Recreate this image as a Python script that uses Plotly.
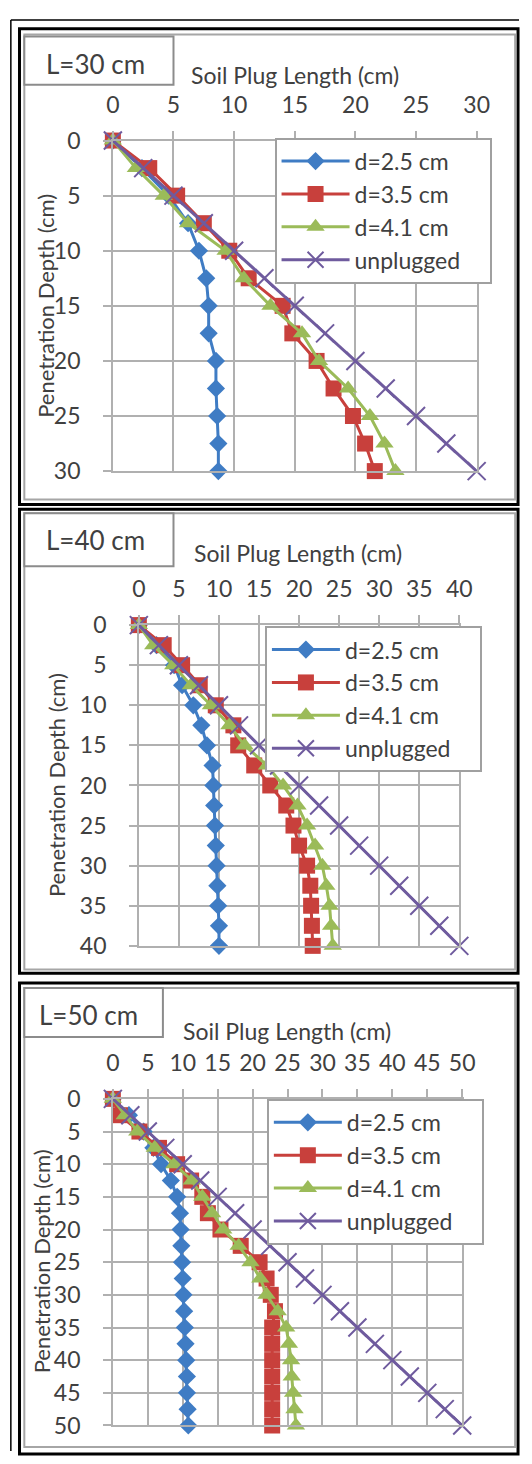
import plotly.graph_objects as go

W, H = 532, 1464

series_names = ["d=2.5 cm", "d=3.5 cm", "d=4.1 cm", "unplugged"]
panel_titles = ["L=30 cm", "L=40 cm", "L=50 cm"]
x_title = "Soil Plug Length (cm)"
y_title = "Penetration Depth (cm)"

depth30 = [0, 2.5, 5, 7.5, 10, 12.5, 15, 17.5, 20, 22.5, 25, 27.5, 30]
d25_L30 = [0, 2.4, 4.6, 6.2, 7.1, 7.7, 7.9, 7.9, 8.5, 8.5, 8.6, 8.7, 8.7]
d35_L30 = [0, 3.0, 5.3, 7.5, 9.6, 11.2, 14.0, 14.8, 16.8, 18.2, 19.8, 20.8, 21.6]
d41_L30 = [0, 1.9, 4.2, 6.2, 9.3, 10.8, 13.0, 15.6, 17.0, 19.4, 21.2, 22.4, 23.3]
unp_L30 = [0, 2.5, 5, 7.5, 10, 12.5, 15, 17.5, 20, 22.5, 25, 27.5, 30]

depth40 = [0, 2.5, 5, 7.5, 10, 12.5, 15, 17.5, 20, 22.5, 25, 27.5, 30, 32.5, 35, 37.5, 40]
d25_L40 = [0, 2.2, 4.4, 5.4, 6.8, 7.8, 8.5, 9.2, 9.3, 9.4, 9.5, 9.6, 9.7, 9.8, 9.9, 10.0, 10.0]
d35_L40 = [0, 3.1, 5.4, 7.6, 9.6, 11.8, 12.4, 14.4, 16.4, 18.4, 19.3, 20.0, 21.0, 21.4, 21.5, 21.6, 21.7]
d41_L40 = [0, 1.8, 4.3, 6.5, 9.0, 11.3, 13.2, 16.0, 18.0, 19.8, 21.0, 22.0, 22.9, 23.4, 23.8, 24.0, 24.2]
unp_L40 = [0, 2.5, 5, 7.5, 10, 12.5, 15, 17.5, 20, 22.5, 25, 27.5, 30, 32.5, 35, 37.5, 40]

depth50 = [0, 2.5, 5, 7.5, 10, 12.5, 15, 17.5, 20, 22.5, 25, 27.5, 30, 32.5, 35, 37.5,
           40, 42.5, 45, 47.5, 50]
d25_L50 = [0, 2.3, 4.4, 5.8, 6.9, 8.3, 9.2, 9.6, 9.7, 9.8, 9.9, 10.0, 10.1, 10.2, 10.3, 10.4,
           10.5, 10.6, 10.6, 10.7, 10.8]
d35_L50 = [0, 1.0, 3.8, 6.6, 9.2, 11.2, 12.8, 13.6, 15.4, 18.3, 21.0, 22.0, 22.6, 23.2, 22.8, 22.8,
           22.8, 22.8, 22.8, 22.8, 22.8]
d41_L50 = [0, 1.7, 3.5, 6.0, 8.8, 11.3, 12.8, 14.2, 15.8, 18.0, 19.7, 21.1, 22.0, 23.6, 24.8, 25.2,
           25.5, 25.6, 25.8, 26.0, 26.2]
unp_L50 = [0, 2.5, 5, 7.5, 10, 12.5, 15, 17.5, 20, 22.5, 25, 27.5, 30, 32.5, 35, 37.5,
           40, 42.5, 45, 47.5, 50]

axis_max = [30, 40, 50]

panels = [
    (depth30, [d25_L30, d35_L30, d41_L30, unp_L30]),
    (depth40, [d25_L40, d35_L40, d41_L40, unp_L40]),
    (depth50, [d25_L50, d35_L50, d41_L50, unp_L50]),
]

# ---- styling / layout (pixels) ----
FONT = "Lato, 'Open Sans', sans-serif"
TXT = "#404040"
GRID = "#b0b0b0"
colors = ["#3f7cc4", "#c8403c", "#9bbb59", "#6f5b9e"]
symbols = ["diamond", "square", "triangle-up", "x-thin-open"]
msizes = [14, 16, 16, 18]
PAD = "\u00a0\u00a0\u00a0\u00a0"

plot_px = [  # x0, x1, y0(top), y1(bottom)
    (110, 488, 128, 465),
    (137, 470, 622, 949),
    (110, 473, 1105, 1438),
]
frame_px = [(14, 499), (504, 977), (987, 1467)]
inner_px = [(20, 494), (508, 973), (992, 1460)]
tbox_px = [(18, 173, 22, 71), (18, 173, 508, 562), (18, 162, 992, 1042)]
tbox_txt = [(92, 50), (92, 535), (85, 1019)]
xtitle_px = [(299, 61), (302, 548), (291, 1036)]
ytitle_px = [(40, 296), (52, 785), (36, 1271)]
legend_px = [(278, 125), (268, 623), (270, 1105)]


def fx(p):
    return p / W


def fy(p):
    return 1 - p / H


fig = go.Figure()

for i, (depth, vals) in enumerate(panels):
    sfx = "" if i == 0 else str(i + 1)
    leg = "legend" if i == 0 else "legend" + str(i + 1)
    for k, xs in enumerate(vals):
        mline = dict(width=2, color=colors[k]) if k == 3 else dict(width=0)
        fig.add_trace(go.Scatter(
            x=xs, y=depth, name=series_names[k] + PAD, mode="lines+markers",
            xaxis="x" + sfx, yaxis="y" + sfx, legend=leg,
            legendgroup=f"g{i}{k}",
            line=dict(color=colors[k], width=3),
            marker=dict(symbol=symbols[k], size=msizes[k], color=colors[k], line=mline),
            cliponaxis=False,
        ))

layout = dict(
    width=W, height=H, margin=dict(l=0, r=0, t=0, b=0),
    paper_bgcolor="white", plot_bgcolor="white",
    font=dict(family=FONT, color=TXT, size=22),
    shapes=[], annotations=[],
)

for i in range(3):
    sfx = "" if i == 0 else str(i + 1)
    x0, x1, y0, y1 = plot_px[i]
    L = axis_max[i]
    common = dict(
        dtick=5, showgrid=True, gridcolor=GRID, gridwidth=1.5,
        showline=True, linecolor=GRID, linewidth=1.5, mirror=True,
        ticks="outside", ticklen=8, tickcolor=GRID, tickwidth=1.5,
        zeroline=False, tickfont=dict(size=23, color=TXT, family=FONT),
        fixedrange=True,
    )
    layout["xaxis" + sfx] = dict(
        domain=[fx(x0), fx(x1)], range=[0, L], side="top",
        anchor="y" + sfx, ticklabelstandoff=9, **common)
    layout["yaxis" + sfx] = dict(
        domain=[fy(y1), fy(y0)], range=[L, 0],
        anchor="x" + sfx, ticklabelstandoff=18, **common)

    lx, ly = legend_px[i]
    layout["legend" if i == 0 else "legend" + str(i + 1)] = dict(
        x=fx(lx), y=fy(ly), xanchor="left", yanchor="top",
        bgcolor="white", bordercolor="#a0a0a0", borderwidth=2,
        font=dict(size=23, color=TXT, family=FONT),
        tracegroupgap=1, itemwidth=68, traceorder="normal",
    )

    # panel frames
    fy0, fy1 = frame_px[i]
    layout["shapes"].append(dict(type="rect", xref="paper", yref="paper",
                                 x0=fx(13), x1=fx(531), y0=fy(fy1), y1=fy(fy0),
                                 line=dict(color="black", width=3), layer="below"))
    iy0, iy1 = inner_px[i]
    layout["shapes"].append(dict(type="rect", xref="paper", yref="paper",
                                 x0=fx(18), x1=fx(528), y0=fy(iy1), y1=fy(iy0),
                                 line=dict(color="#a6a6a6", width=2), layer="below"))
    bx0, bx1, by0, by1 = tbox_px[i]
    layout["shapes"].append(dict(type="rect", xref="paper", yref="paper",
                                 x0=fx(bx0), x1=fx(bx1), y0=fy(by1), y1=fy(by0),
                                 line=dict(color="#8c8c8c", width=2), fillcolor="white",
                                 layer="below"))
    tx, ty = tbox_txt[i]
    layout["annotations"].append(dict(text=panel_titles[i], xref="paper", yref="paper",
                                      x=fx(tx), y=fy(ty), showarrow=False,
                                      xanchor="center", yanchor="middle",
                                      font=dict(size=26, color=TXT, family=FONT)))
    ttx, tty = xtitle_px[i]
    layout["annotations"].append(dict(text=x_title, xref="paper", yref="paper",
                                      x=fx(ttx), y=fy(tty), showarrow=False,
                                      xanchor="center", yanchor="middle",
                                      font=dict(size=23, color=TXT, family=FONT)))
    yx, yy = ytitle_px[i]
    layout["annotations"].append(dict(text=y_title, xref="paper", yref="paper",
                                      x=fx(yx), y=fy(yy), showarrow=False, textangle=-90,
                                      xanchor="center", yanchor="middle",
                                      font=dict(size=22, color=TXT, family=FONT)))

# outer thin frame lines
layout["shapes"].append(dict(type="line", xref="paper", yref="paper",
                             x0=fx(4), x1=fx(4), y0=0, y1=fy(5),
                             line=dict(color="black", width=1.5), layer="below"))
layout["shapes"].append(dict(type="line", xref="paper", yref="paper",
                             x0=fx(4), x1=1, y0=fy(5), y1=fy(5),
                             line=dict(color="black", width=1.5), layer="below"))

fig.update_layout(**layout)
fig.write_html("out.html")
